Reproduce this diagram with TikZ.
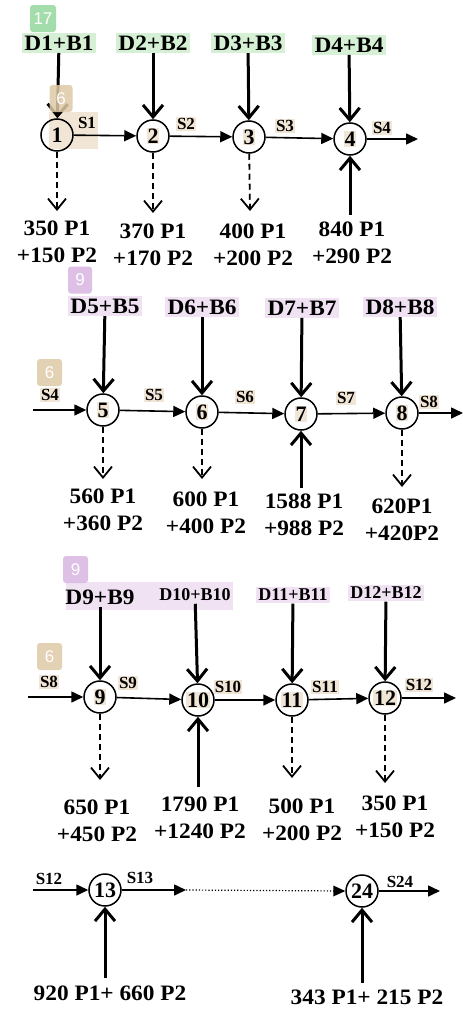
\documentclass[tikz,border=0pt]{standalone}
\usepackage{fontspec}
\setmainfont{Liberation Serif}
\newfontfamily\badgefont{Liberation Sans}
\newfontfamily\widefont[FakeStretch=1.06]{Liberation Serif}
\usetikzlibrary{arrows.meta}
\definecolor{hlg}{HTML}{D6F0D6}
\definecolor{bdg}{HTML}{93D89E}
\definecolor{hlp}{HTML}{F0E2F3}
\definecolor{bdp}{HTML}{D9B6E2}
\definecolor{hlb}{HTML}{F1E6D6}
\definecolor{bdb}{HTML}{DFC9A6}
\newcommand{\hb}[1]{{\setlength{\fboxsep}{0.6pt}\colorbox{hlb}{#1}}}
\begin{document}
\begin{tikzpicture}[x=1pt,y=-1pt,
  stn/.style={circle, draw, line width=1.5pt, minimum size=32pt, inner sep=0pt, font=\fontsize{22}{22}\selectfont\bfseries},
  dlab/.style={font=\widefont\fontsize{22}{22}\selectfont\bfseries, inner sep=2.5pt},
  dsmall/.style={font=\fontsize{18}{18}\selectfont\bfseries, inner sep=2.5pt},
  slab/.style={font=\fontsize{17}{17}\selectfont\bfseries, inner sep=0.8pt},
  blab/.style={font=\widefont\fontsize{22}{27}\selectfont\bfseries, align=center, inner sep=0pt},
  flow/.style={line width=1.6pt, -{Triangle[length=12pt,width=11pt]}},
  feed/.style={line width=3pt, -{Straight Barb[length=12pt,width=20pt]}},
  outflow/.style={line width=1.8pt, dash pattern=on 6pt off 4pt, -{Straight Barb[length=11pt,width=18pt]}},
  dotflow/.style={line width=1.2pt, dotted},
  badge/.style={rounded corners=3pt, text=white, font=\badgefont\fontsize{17}{17}\selectfont, minimum width=26pt, minimum height=27pt, inner sep=0pt, fill opacity=0.85, text opacity=1}
]
\fill[white] (0,0) rectangle (463,1009);
\useasboundingbox (0,0) rectangle (463,1009);

% ---------- background highlights ----------
\fill[hlb] (49,112) rectangle (98,149);
\fill[hlp] (66,582) rectangle (233,610);

% ================= Row 1 =================
\node[stn] (n1) at (57,135) {1};
\node[stn] (n2) at (153,136) {\hb{2}};
\node[stn] (n3) at (249,137) {\hb{3}};
\node[stn] (n4) at (350,139) {\hb{4}};

\node[dlab, fill=hlg] (d1) at (59,43) {D1+B1};
\node[dlab, fill=hlg] (d2) at (153,43) {D2+B2};
\node[dlab, fill=hlg] (d3) at (248,43) {D3+B3};
\node[dlab, fill=hlg] (d4) at (349,45) {D4+B4};

\node[slab] (s1) at (87,123) {S1};
\node[slab, fill=hlb] (s2) at (186,124) {S2};
\node[slab, fill=hlb] (s3) at (285,126) {S3};
\node[slab, fill=hlb] (s4) at (382,128) {S4};

\coordinate (o4) at (418,139);
\coordinate (e1) at (57,211);
\coordinate (e2) at (153,213);
\coordinate (e3) at (250,211);
\coordinate (u4) at (350,215);

\draw[feed] (d1) -- (n1);
\draw[feed] (d2) -- (n2);
\draw[feed] (d3) -- (n3);
\draw[feed] (d4) -- (n4);
\draw[flow] (n1) -- (n2);
\draw[flow] (n2) -- (n3);
\draw[flow] (n3) -- (n4);
\draw[flow] (n4) -- (o4);
\draw[outflow] (n1) -- (e1);
\draw[outflow] (n2) -- (e2);
\draw[outflow] (n3) -- (e3);
\draw[feed] (u4) -- (n4);

\node[blab] (b1) at (57,242) {350 P1\\+150 P2};
\node[blab] (b2) at (153,245) {370 P1\\+170 P2};
\node[blab] (b3) at (253,245) {400 P1\\+200 P2};
\node[blab] (b4) at (352,243) {840 P1\\+290 P2};

% ================= Row 2 =================
\node[stn] (n5) at (103,410) {\hb{5}};
\node[stn] (n6) at (202,412) {\hb{6}};
\node[stn] (n7) at (301,414) {\hb{7}};
\node[stn] (n8) at (402,413) {\hb{8}};

\node[dlab, fill=hlp] (d5) at (105,306) {D5+B5};
\node[dlab, fill=hlp] (d6) at (202,307) {D6+B6};
\node[dlab, fill=hlp] (d7) at (302,308) {D7+B7};
\node[dlab, fill=hlp] (d8) at (400,307) {D8+B8};

\node[slab, fill=hlb] (s4b) at (50,395) {S4};
\node[slab, fill=hlb] (s5) at (154,395) {S5};
\node[slab, fill=hlb] (s6) at (245,397) {S6};
\node[slab, fill=hlb] (s7) at (346,398) {S7};
\node[slab, fill=hlb] (s8) at (429,402) {S8};

\coordinate (i5) at (33,410);
\coordinate (o8) at (463,413);
\coordinate (e5) at (103,479);
\coordinate (e6) at (202,479);
\coordinate (e8) at (402,487);
\coordinate (u7) at (301,488);

\draw[feed] (d5) -- (n5);
\draw[feed] (d6) -- (n6);
\draw[feed] (d7) -- (n7);
\draw[feed] (d8) -- (n8);
\draw[flow] (i5) -- (n5);
\draw[flow] (n5) -- (n6);
\draw[flow] (n6) -- (n7);
\draw[flow] (n7) -- (n8);
\draw[flow] (n8) -- (o8);
\draw[outflow] (n5) -- (e5);
\draw[outflow] (n6) -- (e6);
\draw[outflow] (n8) -- (e8);
\draw[feed] (u7) -- (n7);

\node[blab] (b5) at (103,510) {560 P1\\+360 P2};
\node[blab] (b6) at (206,513) {600 P1\\+400 P2};
\node[blab] (b7) at (304,515) {1588 P1\\+988 P2};
\node[blab] (b8) at (402,520) {620P1\\+420P2};

% ================= Row 3 =================
\node[stn] (n9) at (100,697) {\hb{9}};
\node[stn] (n10) at (198,700) {\hb{10}};
\node[stn] (n11) at (292,700) {\hb{11}};
\node[stn] (n12) at (385,698) {\hb{12}};

\node[dlab] (d9) at (100,597) {D9+B9};
\node[dsmall] (d10) at (195,595) {D10+B10};
\node[dsmall, fill=hlp] (d11) at (293,595) {D11+B11};
\node[dsmall, fill=hlp] (d12) at (386,593) {D12+B12};

\node[slab, fill=hlb] (s8b) at (49,682) {S8};
\node[slab, fill=hlb] (s9) at (128,683) {S9};
\node[slab, fill=hlb] (s10) at (228,687) {S10};
\node[slab, fill=hlb] (s11) at (325,687) {S11};
\node[slab, fill=hlb] (s12) at (419,685) {S12};

\coordinate (i9) at (28,697);
\coordinate (o12) at (456,698);
\coordinate (e9) at (100,780);
\coordinate (e11) at (292,778);
\coordinate (e12) at (385,783);
\coordinate (u10) at (198,787);

\draw[feed] (d9) -- (n9);
\draw[feed] (d10) -- (n10);
\draw[feed] (d11) -- (n11);
\draw[feed] (d12) -- (n12);
\draw[flow] (i9) -- (n9);
\draw[flow] (n9) -- (n10);
\draw[flow] (n10) -- (n11);
\draw[flow] (n11) -- (n12);
\draw[flow] (n12) -- (o12);
\draw[outflow] (n9) -- (e9);
\draw[outflow] (n11) -- (e11);
\draw[outflow] (n12) -- (e12);
\draw[feed] (u10) -- (n10);

\node[blab] (b9) at (97,821) {650 P1\\+450 P2};
\node[blab] (b10) at (200,818) {1790 P1\\+1240 P2};
\node[blab] (b11) at (302,820) {500 P1\\+200 P2};
\node[blab] (b12) at (395,817) {350 P1\\+150 P2};

% ================= Row 4 =================
\node[stn] (n13) at (105,890) {13};
\node[stn] (n24) at (362,891) {24};

\node[slab] (s12b) at (49,879) {S12};
\node[slab] (s13) at (140,878) {S13};
\node[slab] (s24) at (400,882) {S24};

\coordinate (i13) at (33,890);
\coordinate (m13) at (186,890);
\coordinate (o24) at (440,891);
\coordinate (u13) at (105,978);
\coordinate (u24) at (362,983);

\draw[flow] (i13) -- (n13);
\draw[flow] (n13) -- (m13);
\draw[dotflow] (m13) -- (n24.west);
\fill (n24.west) -- ++(-12,-5.5) -- ++(0,11) -- cycle;
\draw[flow] (n24) -- (o24);
\draw[feed] (u13) -- (n13);
\draw[feed] (u24) -- (n24);

\node[blab] (b13) at (110,993) {920 P1+ 660 P2};
\node[blab] (b24) at (367,997) {343 P1+ 215 P2};

% ---------- badges ----------
\node[badge, fill=bdg] (g17) at (43,18.5) {17};
\node[badge, fill=bdb, minimum width=23pt] (g6a) at (61,98.5) {6};
\node[badge, fill=bdp, minimum width=24pt] (g9a) at (80,280) {9};
\node[badge, fill=bdb, minimum width=25pt] (g6b) at (49.5,372.5) {6};
\node[badge, fill=bdp, minimum width=25pt] (g9b) at (75.5,569.5) {9};
\node[badge, fill=bdb, minimum width=25pt] (g6c) at (49.5,656.5) {6};
\end{tikzpicture}
\end{document}
